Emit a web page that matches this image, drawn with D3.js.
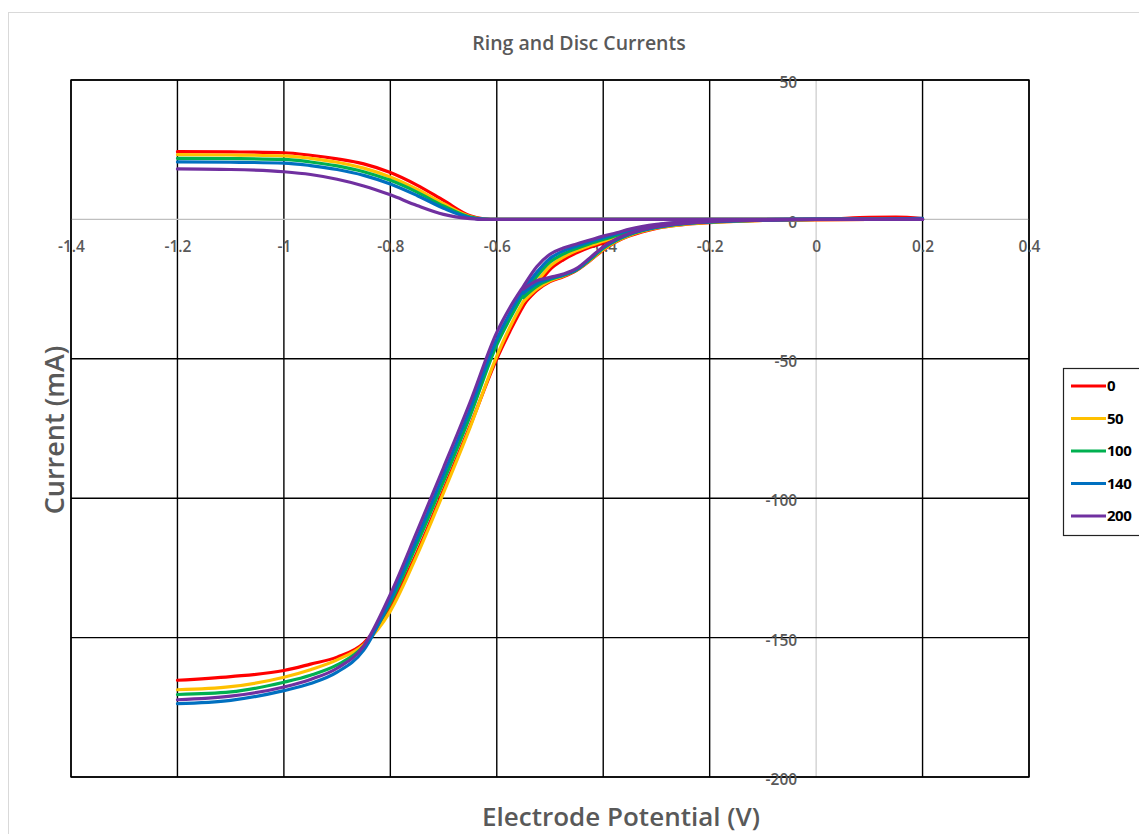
<!DOCTYPE html>
<html>
<head>
<meta charset="utf-8">
<script src="https://cdn.jsdelivr.net/npm/d3@7"></script>
<style>
  body { margin: 0; background: #fff; }
  svg { display: block; font-family: "Open Sans", "Liberation Sans", sans-serif; }
</style>
</head>
<body>
<div id="chart"></div>
<script>
// rotation rates (legend) and their colours
const rates = ["0", "50", "100", "140", "200"];
const colors = ["#ff0000", "#ffc000", "#00b050", "#0070c0", "#7030a0"];

const xTicks = [-1.4, -1.2, -1, -0.8, -0.6, -0.4, -0.2, 0, 0.2, 0.4];
const yTicks = [50, 0, -50, -100, -150, -200];

// ring current, mA
const ringE = [-1.2, -1.1, -1.0, -0.95, -0.9, -0.85, -0.8, -0.75, -0.7, -0.65, -0.625, -0.6, -0.4, -0.2, 0, 0.1, 0.15, 0.2];
const ring0   = [24.3, 24.2, 23.9, 23.0, 21.7, 19.9, 16.8, 12.3, 6.8, 1.3, 0.2, 0, 0, 0, 0, 0.7, 0.8, 0.3];
const ring50  = [23.2, 23.1, 22.8, 21.9, 20.5, 18.4, 15.2, 10.8, 5.6, 1.0, 0.1, 0, 0, 0, 0, 0, 0.2, 0.3];
const ring100 = [21.9, 21.8, 21.5, 20.6, 19.2, 17.1, 14.0, 9.8, 4.8, 0.8, 0.1, 0, 0, 0, 0, 0, 0, 0.2];
const ring140 = [20.6, 20.5, 20.2, 19.3, 17.9, 15.8, 12.7, 8.6, 4.0, 0.6, 0.1, 0, 0, 0, 0, 0, 0.2, 0.4];
const ring200 = [18.1, 17.9, 17.1, 16.1, 14.4, 12.0, 8.8, 5.0, 1.8, 0.3, 0, 0, 0, 0, 0, 0, 0, 0];

// disc current, first sweep, mA
const discE = [-1.2, -1.1, -1.0, -0.95, -0.9, -0.85, -0.8, -0.75, -0.7, -0.65, -0.6, -0.575, -0.55, -0.525,
               -0.5, -0.475, -0.45, -0.425, -0.4, -0.375, -0.35, -0.3, -0.25, -0.2, -0.1, 0, 0.1, 0.2];
const discA0   = [-165.3, -164.0, -161.8, -159.5, -157.0, -152.0, -139.0, -119.5, -97.0, -74.0, -50.0, -40.0, -31.0, -24.0,
                  -18.0, -14.5, -12.0, -10.0, -8.5, -6.8, -5.2, -2.9, -1.5, -0.8, -0.3, -0.1, 0, 0];
const discA50  = [-168.7, -167.6, -164.2, -161.5, -158.0, -152.5, -140.5, -120.5, -98.0, -74.5, -49.0, -38.5, -29.5, -22.5,
                  -16.8, -13.5, -11.2, -9.4, -7.8, -6.2, -4.8, -2.6, -1.3, -0.6, -0.2, 0, 0, 0];
const discA100 = [-170.4, -169.5, -166.0, -163.5, -159.8, -153.0, -137.5, -116.5, -94.0, -70.5, -45.0, -35.5, -27.0, -20.5,
                  -15.3, -12.4, -10.4, -8.7, -7.2, -5.8, -4.4, -2.3, -1.1, -0.5, -0.1, 0, 0, 0];
const discA140 = [-173.7, -172.5, -169.0, -166.5, -162.4, -154.5, -136.5, -114.5, -91.5, -68.0, -43.0, -33.5, -25.5, -19.0,
                  -14.0, -11.3, -9.6, -8.0, -6.6, -5.2, -3.9, -2.0, -1.0, -0.5, -0.1, 0, 0, 0];
const discA200 = [-172.3, -171.0, -167.7, -165.0, -161.0, -153.0, -134.5, -112.0, -89.0, -65.5, -40.5, -31.5, -24.0, -17.0,
                  -12.5, -10.3, -8.8, -7.4, -6.0, -4.8, -3.5, -1.8, -0.9, -0.4, -0.1, 0, 0, 0];

// disc current, return sweep (only where it departs from the first sweep), mA
const loopE = [-0.55, -0.525, -0.5, -0.475, -0.45, -0.425, -0.4, -0.375, -0.35, -0.3, -0.25, -0.2, -0.1, 0, 0.1, 0.2];
const discB0   = [-30.5, -25.5, -22.3, -20.6, -18.3, -14.8, -11.0, -8.0, -5.9, -3.2, -1.9, -1.2, -0.4, -0.1, 0, 0];
const discB50  = [-29.5, -25.0, -22.0, -20.3, -18.1, -14.6, -10.8, -7.8, -5.7, -3.1, -1.8, -1.1, -0.4, -0.1, 0, 0];
const discB100 = [-28.0, -24.0, -21.6, -20.1, -18.1, -14.4, -10.4, -7.5, -5.4, -2.9, -1.6, -1.0, -0.3, 0, 0, 0];
const discB140 = [-26.5, -23.0, -21.2, -19.9, -17.9, -14.1, -10.1, -7.2, -5.2, -2.8, -1.5, -0.9, -0.3, 0, 0, 0];
const discB200 = [-25.0, -22.0, -20.8, -19.6, -17.6, -13.8, -9.8, -7.0, -5.0, -2.6, -1.4, -0.8, -0.3, 0, 0, 0];

const ringSets = [ring0, ring50, ring100, ring140, ring200];
const discASets = [discA0, discA50, discA100, discA140, discA200];
const discBSets = [discB0, discB50, discB100, discB140, discB200];

const W = 1139, H = 834;
const plot = {left: 71, right: 1029, top: 80, bottom: 777};
const grey = "#595959";

const svg = d3.select("#chart").append("svg")
    .attr("width", W)
    .attr("height", H);

// chart area frame (cropped at right/bottom)
svg.append("rect")
    .attr("x", 8.5).attr("y", 12.5)
    .attr("width", W + 20).attr("height", H + 20)
    .attr("fill", "#fff")
    .attr("stroke", "#d9d9d9");

const x = d3.scaleLinear().domain([-1.4, 0.4]).range([plot.left, plot.right]);
const y = d3.scaleLinear().domain([-200, 50]).range([plot.bottom, plot.top]);

// gridlines
svg.append("g")
    .selectAll("line")
    .data(xTicks)
    .join("line")
        .attr("x1", d => x(d)).attr("x2", d => x(d))
        .attr("y1", plot.top).attr("y2", plot.bottom)
        .attr("stroke", d => d === 0 ? "#bfbfbf" : "#000")
        .attr("stroke-width", d => d === 0 ? 1 : 1.4);

svg.append("g")
    .selectAll("line")
    .data(yTicks)
    .join("line")
        .attr("x1", plot.left).attr("x2", plot.right)
        .attr("y1", d => y(d)).attr("y2", d => y(d))
        .attr("stroke", d => d === 0 ? "#bfbfbf" : "#000")
        .attr("stroke-width", 1.4);

svg.append("rect")
    .attr("x", plot.left).attr("y", plot.top)
    .attr("width", plot.right - plot.left).attr("height", plot.bottom - plot.top)
    .attr("fill", "none")
    .attr("stroke", "#000")
    .attr("stroke-width", 1.4);

// axes through the origin
const fmt = d => String(+d.toFixed(1));

const xAxis = svg.append("g")
    .attr("transform", `translate(0,${y(0)})`)
    .call(d3.axisBottom(x).tickValues(xTicks).tickSize(0).tickPadding(22).tickFormat(fmt));

const yAxis = svg.append("g")
    .attr("transform", `translate(${x(0)},0)`)
    .call(d3.axisLeft(y).tickValues(yTicks).tickSize(0).tickPadding(19).tickFormat(fmt));

[xAxis, yAxis].forEach(g => {
    g.select(".domain").remove();
    g.selectAll("text")
        .attr("fill", grey)
        .style("font-size", "15.5px")
        .style("font-weight", 600)
        .style("font-family", "\"Open Sans\", sans-serif");
});
yAxis.selectAll("text").attr("dy", "0.5em");

// data lines
const line = d3.line()
    .x(d => x(d[0]))
    .y(d => y(d[1]))
    .curve(d3.curveMonotoneX);

const lines = svg.append("g")
    .attr("fill", "none")
    .attr("stroke-width", 3.2)
    .attr("stroke-linejoin", "round")
    .attr("stroke-linecap", "round");

rates.forEach((r, i) => {
    const g = lines.append("g").attr("stroke", colors[i]);
    g.append("path").attr("d", line(ringE.map((e, j) => [e, ringSets[i][j]])));
    g.append("path").attr("d", line(discE.map((e, j) => [e, discASets[i][j]])));
    g.append("path").attr("d", line(loopE.map((e, j) => [e, discBSets[i][j]])));
});

// titles
svg.append("text")
    .attr("x", 579).attr("y", 50)
    .attr("text-anchor", "middle")
    .attr("fill", grey)
    .style("font-size", "19.5px")
    .style("font-weight", 600)
    .text("Ring and Disc Currents");

svg.append("text")
    .attr("x", 621).attr("y", 826)
    .attr("text-anchor", "middle")
    .attr("fill", grey)
    .style("font-size", "26px")
    .style("font-weight", 600)
    .text("Electrode Potential (V)");

svg.append("text")
    .attr("transform", "translate(64,430) rotate(-90)")
    .attr("text-anchor", "middle")
    .attr("fill", grey)
    .style("font-size", "27px")
    .style("font-weight", 600)
    .text("Current (mA)");

// legend
const legend = svg.append("g");
legend.append("rect")
    .attr("x", 1063.5).attr("y", 368.5)
    .attr("width", 90).attr("height", 167)
    .attr("fill", "#fff")
    .attr("stroke", "#222")
    .attr("stroke-width", 1.2);

const item = legend.selectAll("g.item")
    .data(rates)
    .join("g")
        .attr("class", "item")
        .attr("transform", (d, i) => `translate(1071,${386 + i * 32.5})`);

item.append("line")
    .attr("x1", 0).attr("x2", 35)
    .attr("stroke", (d, i) => colors[i])
    .attr("stroke-width", 3);

item.append("text")
    .attr("x", 36).attr("dy", "0.35em")
    .attr("fill", "#000")
    .style("font-size", "15px")
    .style("font-weight", 700)
    .style("letter-spacing", "-0.5px")
    .text(d => d);
</script>
</body>
</html>
